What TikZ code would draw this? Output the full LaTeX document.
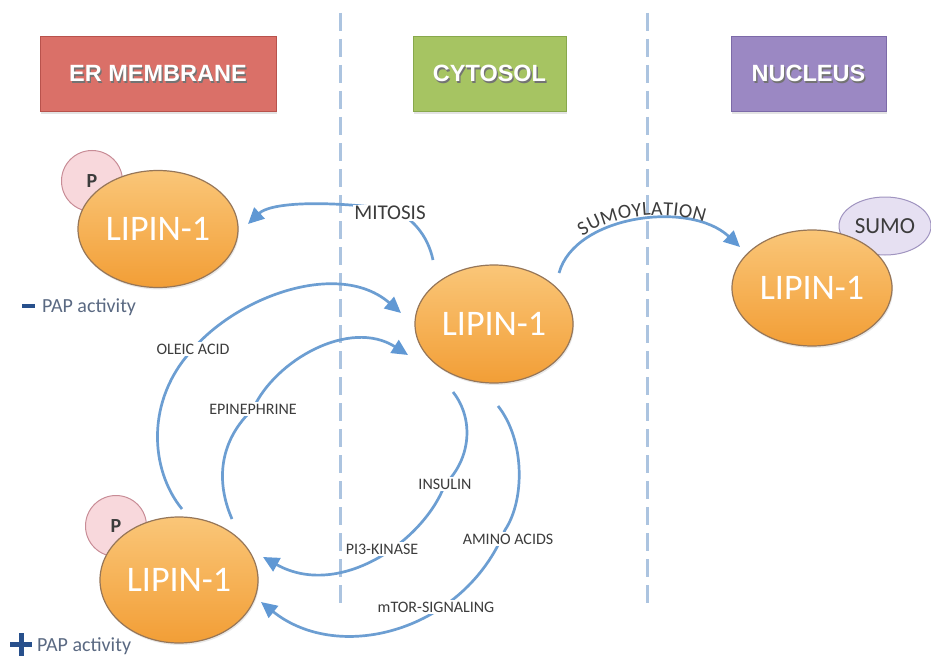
\documentclass[tikz,border=0pt]{standalone}
\usepackage{fontspec}
\setmainfont{Carlito}
\newfontfamily\hdrfont{Liberation Sans}
\usetikzlibrary{arrows.meta,shapes.geometric,shadows,decorations.text,calc}
\definecolor{arrowblue}{RGB}{108,158,210}
\definecolor{tipblue}{RGB}{96,152,212}
\definecolor{dashblue}{RGB}{172,196,224}
\definecolor{erred}{RGB}{218,112,104}
\definecolor{erborder}{RGB}{184,82,76}
\definecolor{cytogreen}{RGB}{166,196,98}
\definecolor{cytoborder}{RGB}{136,168,76}
\definecolor{nucpurple}{RGB}{155,136,195}
\definecolor{nucborder}{RGB}{124,106,168}
\definecolor{lipintop}{RGB}{250,198,120}
\definecolor{lipinbot}{RGB}{242,158,54}
\definecolor{lipinborder}{RGB}{150,118,88}
\definecolor{pfill}{RGB}{248,216,220}
\definecolor{pborder}{RGB}{200,140,150}
\definecolor{sumofill}{RGB}{230,224,242}
\definecolor{sumoborder}{RGB}{160,148,192}
\definecolor{labelgray}{RGB}{60,60,60}
\definecolor{papblue}{RGB}{40,80,140}
\definecolor{paptext}{RGB}{90,105,130}
\newcommand\shtext[1]{\makebox[0pt][l]{\hspace{1.3pt}\raisebox{-1.3pt}{\textcolor{black!55}{#1}}}\textcolor{white}{#1}}
\begin{document}
\begin{tikzpicture}[x=1pt,y=-1pt,
  header/.style n args={3}{rectangle, fill=#1, draw=#2, line width=1pt,
     minimum width=#3, minimum height=75pt, inner sep=0pt,
     font=\hdrfont\bfseries\fontsize{23.5}{23.5}\selectfont,
     drop shadow={opacity=0.22,shadow xshift=1pt,shadow yshift=-2pt}},
  lipin/.style={ellipse, draw=lipinborder, line width=1.2pt, top color=lipintop,
     bottom color=lipinbot, inner sep=0pt, text=white,
     font=\fontsize{36}{36}\selectfont,
     drop shadow={opacity=0.18,shadow xshift=1pt,shadow yshift=-2pt}},
  pcirc/.style={circle, draw=pborder, fill=pfill, line width=1pt, minimum size=61pt,
     inner sep=0pt, text=labelgray, font=\bfseries\fontsize{20}{20}\selectfont},
  sumo/.style={ellipse, draw=sumoborder, fill=sumofill, line width=1pt,
     minimum width=92pt, minimum height=58pt, inner sep=0pt, text=labelgray,
     font=\fontsize{23}{23}\selectfont},
  lbl/.style={fill=white, inner sep=1.5pt, text=labelgray, font=\fontsize{16}{16}\selectfont},
  conn/.style={draw=arrowblue, line width=2.7pt,
     -{Triangle[length=16pt,width=15pt,color=tipblue]}},
  dashln/.style={draw=dashblue, line width=3pt, dash pattern=on 18pt off 8pt}
]
\useasboundingbox (0,0) rectangle (931,658);
\fill[white] (0,0) rectangle (931,658);

% column separators
\coordinate (d1t) at (340,13); \coordinate (d1b) at (340,607);
\coordinate (d2t) at (647,13); \coordinate (d2b) at (647,607);
\draw[dashln] (d1t) -- (d1b);
\draw[dashln] (d2t) -- (d2b);

% headers
\node[header={erred}{erborder}{236pt}] (er) at (158,74.5) {\shtext{ER MEMBRANE}};
\node[header={cytogreen}{cytoborder}{153pt}] (cyto) at (489.5,74.5) {\shtext{CYTOSOL}};
\node[header={nucpurple}{nucborder}{155pt}] (nuc) at (808.5,74.5) {\shtext{NUCLEUS}};

% lipin nodes
\node[pcirc] (pa) at (92,181) {P\hspace{12pt}};
\node[lipin, minimum width=160pt, minimum height=117pt] (la) at (158,229) {LIPIN-1};
\node[lipin, minimum width=158pt, minimum height=118pt] (lb) at (494,324) {LIPIN-1};
\node[sumo] (sm) at (885,226) {SUMO};
\node[lipin, minimum width=160pt, minimum height=116pt] (lc) at (812,288) {LIPIN-1};
\node[pcirc] (pd) at (116,526) {P\hspace{12pt}};
\node[lipin, minimum width=158pt, minimum height=126pt] (ld) at (179,580) {LIPIN-1};

% PAP activity notes
\node[anchor=west, inner sep=0pt, text=paptext, font=\fontsize{20}{20}\selectfont] (papm) at (22,307)
  {\textcolor{papblue}{\rule[4pt]{13pt}{4pt}}\hspace{7pt}PAP activity};
\node[anchor=west, inner sep=0pt, text=paptext, font=\fontsize{20}{20}\selectfont] (papp) at (10,644)
  {\textcolor{papblue}{\rlap{\rule[5pt]{22pt}{5pt}}\hspace{8.5pt}\rule[-4pt]{5pt}{23pt}\hspace{8.5pt}}\hspace{5pt}PAP activity};

% connector end points
\coordinate (mitS) at (433,260); \coordinate (mitE) at (248,224);
\coordinate (olS) at (182,509);  \coordinate (olE) at (401,313);
\coordinate (epS) at (232,519);  \coordinate (epE) at (408,355);
\coordinate (inS) at (453,392);  \coordinate (inE) at (263,557);
\coordinate (amS) at (498,406);  \coordinate (amE) at (261,602);
\coordinate (suS) at (559,273);  \coordinate (suE) at (740,247);

% connectors
\draw[conn] (mitS) .. controls (428,236) and (412,216) .. (390,209)
            .. controls (320,200) and (270,203) .. (mitE);
\draw[conn] (olS) .. controls (150,470) and (145,400) .. (193,349)
            .. controls (240,295) and (340,260) .. (olE);
\draw[conn] (epS) .. controls (215,480) and (220,440) .. (253,409)
            .. controls (275,360) and (350,318) .. (epE);
\draw[conn] (inS) .. controls (475,420) and (470,460) .. (445,484)
            .. controls (425,540) and (340,600) .. (inE);
\draw[conn] (amS) .. controls (525,440) and (525,500) .. (505,530)
            .. controls (465,630) and (340,665) .. (amE);
\draw[conn] (suS) .. controls (575,215) and (690,200) .. (suE);
\path[decorate, decoration={text along path,
   text={|\color{labelgray}\fontsize{20}{20}\selectfont|SUMOYLATION},
   text align=center, raise=4pt}]
   (suS) .. controls (575,215) and (690,200) .. (suE);

% labels on connectors
\node[lbl, font=\fontsize{21}{21}\selectfont] (mit) at (390,213) {MITOSIS};
\node[lbl] (ole) at (193,349) {OLEIC ACID};
\node[lbl] (epi) at (253,409) {EPINEPHRINE};
\node[lbl] (ins) at (445,484) {INSULIN};
\node[lbl] (pik) at (382,549) {PI3-KINASE};
\node[lbl] (ami) at (508,539) {AMINO ACIDS};
\node[lbl] (mtor) at (436,607) {mTOR-SIGNALING};
\end{tikzpicture}
\end{document}
